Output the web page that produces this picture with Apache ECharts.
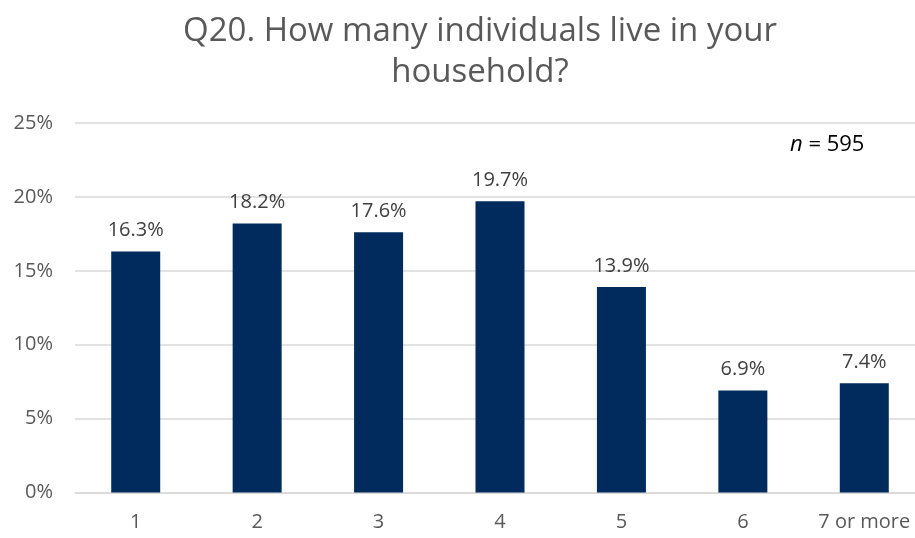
<!DOCTYPE html>
<html><head><meta charset="utf-8">
<script src="https://cdn.jsdelivr.net/npm/echarts@6/dist/echarts.min.js"></script>
<style>html,body{margin:0;padding:0;background:#fff;overflow:hidden}#c{width:925px;height:538px}</style>
</head><body><div id="c"></div>
<script>
const categories = ['1','2','3','4','5','6','7 or more'];
const values = [16.3, 18.2, 17.6, 19.7, 13.9, 6.9, 7.4];
const yTicks = [0, 5, 10, 15, 20, 25];
const titleLines = ['Q20. How many individuals live in your', 'household?'];
const sampleSize = 595;

const FONT = '"Open Sans", sans-serif';
const chart = echarts.init(document.getElementById('c'));
chart.setOption({
  animation: false,
  backgroundColor: '#fff',
  title: {
    text: titleLines.join('\n'),
    left: 475, top: 6, textAlign: 'center',
    textStyle: { fontFamily: FONT, fontSize: 33, fontWeight: 'normal', color: '#595959', lineHeight: 41 }
  },
  grid: { left: 75, top: 123, bottom: 45.5, right: 0, containLabel: false },
  xAxis: {
    type: 'category', data: categories,
    axisLine: { lineStyle: { color: '#d9d9d9', width: 1.5 } },
    axisTick: { show: false },
    axisLabel: { fontFamily: FONT, fontSize: 20, color: '#595959', margin: 20 }
  },
  yAxis: {
    type: 'value', min: yTicks[0], max: yTicks[yTicks.length-1], interval: 5,
    axisLine: { show: false }, axisTick: { show: false },
    splitLine: { lineStyle: { color: '#d9d9d9', width: 1.5 } },
    axisLabel: { fontFamily: FONT, fontSize: 20, color: '#595959', margin: 22, formatter: v => v + '%' }
  },
  series: [{
    type: 'bar', data: values, barWidth: 49,
    itemStyle: { color: '#002b5c' },
    label: { show: true, position: 'top', distance: 11, fontFamily: FONT, fontSize: 20, color: '#404040',
      formatter: p => p.value.toFixed(1) + '%' }
  }],
  graphic: [{
    type: 'text', left: 790, top: 134,
    style: {
      text: '{i|n} = ' + sampleSize,
      rich: { i: { fontStyle: 'italic', fontFamily: FONT, fontSize: 22, fill: '#000' } },
      fontFamily: FONT, fontSize: 22, fill: '#000'
    }
  }]
});
</script></body></html>
